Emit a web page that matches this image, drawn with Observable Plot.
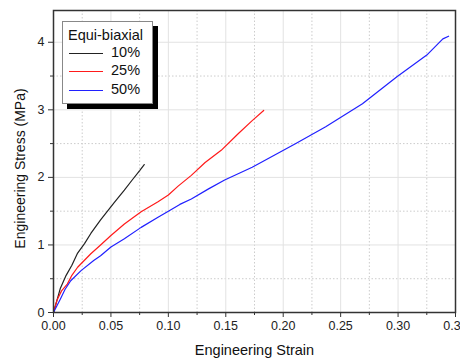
<!DOCTYPE html>
<html><head><meta charset="utf-8">
<script src="https://cdn.jsdelivr.net/npm/d3@7"></script>
<script src="https://cdn.jsdelivr.net/npm/@observablehq/plot@0.6"></script>
<style>
body{margin:0;background:#fff;font-family:"Liberation Sans",Arial,sans-serif;}
#wrap{position:relative;width:460px;height:360px;overflow:hidden;}
#legend{position:absolute;left:62px;top:21px;width:89px;height:81px;background:#fff;border:1px solid #888;box-shadow:5px 5px 0 #000;font-size:14.5px;color:#111;}
#legend .t{position:absolute;left:5px;top:5px;}
#legend .row{position:absolute;left:6px;height:16px;}
#legend .ln{position:absolute;left:0;top:8px;width:34px;}
#legend .lb{position:absolute;left:42px;top:-1px;}
</style></head>
<body><div id="wrap"><div id="chart"></div><div id="legend"></div></div>
<script>
const seriesNames = ["10%", "25%", "50%"];
const seriesColors = ["#222222", "#ff1a1a", "#2020ff"];
const strain10 = [0,0.003,0.006,0.011,0.016,0.021,0.027,0.0325,0.041,0.047,0.053,0.0617,0.068,0.075,0.079];
const stress10 = [0,0.18,0.36,0.55,0.70,0.88,1.02,1.17,1.37,1.50,1.63,1.81,1.95,2.10,2.19];
const strain25 = [0,0.003,0.007,0.012,0.016,0.021,0.0325,0.041,0.050,0.0617,0.0763,0.091,0.100,0.1085,0.120,0.132,0.146,0.161,0.173,0.183];
const stress25 = [0,0.18,0.32,0.42,0.55,0.67,0.87,1.00,1.14,1.31,1.49,1.64,1.74,1.87,2.03,2.22,2.40,2.65,2.84,2.99];
const strain50 = [0,0.003,0.006,0.010,0.015,0.024,0.035,0.041,0.050,0.0617,0.0763,0.091,0.100,0.110,0.120,0.135,0.149,0.173,0.187,0.211,0.237,0.269,0.299,0.325,0.339,0.344];
const stress50 = [0,0.10,0.20,0.34,0.47,0.62,0.77,0.84,0.97,1.09,1.26,1.41,1.50,1.60,1.68,1.83,1.96,2.15,2.28,2.50,2.75,3.09,3.49,3.81,4.05,4.09];
const xMajor = [0,0.05,0.10,0.15,0.20,0.25,0.30,0.35];
const xMinor = [0.025,0.075,0.125,0.175,0.225,0.275,0.325];
const yMajor = [0,1,2,3,4];
const yMinor = [0.5,1.5,2.5,3.5];
const xLabel = "Engineering Strain";
const yLabel = "Engineering Stress (MPa)";
const legendTitle = "Equi-biaxial";

const strains = [strain10, strain25, strain50];
const stresses = [stress10, stress25, stress50];
const data = [];
seriesNames.forEach((s, i) => strains[i].forEach((x, j) => data.push({series: s, strain: x, stress: stresses[i][j]})));

const axisColor = "#333";
const chart = Plot.plot({
  width: 460, height: 360,
  marginLeft: 53, marginRight: 5, marginTop: 10, marginBottom: 48,
  style: {fontFamily: '"Liberation Sans", Arial, sans-serif', fontSize: "12.5px", color: "#222", background: "#fff"},
  x: {domain: [0, 0.35]},
  y: {domain: [0, 4.47]},
  color: {domain: seriesNames, range: seriesColors},
  marks: [
    Plot.ruleX(xMinor, {stroke: "#ccc", strokeDasharray: "1.5,2", strokeWidth: 1}),
    Plot.ruleY(yMinor, {stroke: "#ccc", strokeDasharray: "1.5,2", strokeWidth: 1}),
    Plot.ruleX(xMajor.slice(1, -1), {stroke: "#e2e2e2", strokeWidth: 1}),
    Plot.ruleY(yMajor.slice(1), {stroke: "#e2e2e2", strokeWidth: 1}),
    Plot.line(data, {x: "strain", y: "stress", z: "series", stroke: "series", strokeWidth: 1.2}),
    Plot.frame({stroke: axisColor, strokeWidth: 1.5}),
    Plot.axisX({ticks: xMajor, tickSize: 5, tickFormat: d3.format(".2f"), tickPadding: 4, stroke: axisColor, label: null, fontSize: 12.5}),
    Plot.axisX({ticks: xMinor, tickSize: 3, tickFormat: () => "", stroke: axisColor, label: null}),
    Plot.axisY({ticks: yMajor, tickSize: 5, tickFormat: d3.format("d"), tickPadding: 4, stroke: axisColor, label: null, fontSize: 12.5}),
    Plot.axisY({ticks: yMinor, tickSize: 3, tickFormat: () => "", stroke: axisColor, label: null}),
    Plot.text([xLabel], {frameAnchor: "bottom", textAnchor: "middle", dy: 42, fontSize: 14.5, fill: "#111"}),
    Plot.text([yLabel], {frameAnchor: "left", textAnchor: "middle", dx: -33, dy: 7, rotate: -90, fontSize: 14, fill: "#111"})
  ]
});
document.getElementById("chart").appendChild(chart);

const lg = document.getElementById("legend");
const t = document.createElement("div"); t.className = "t"; t.textContent = legendTitle; lg.appendChild(t);
seriesNames.forEach((s, i) => {
  const r = document.createElement("div"); r.className = "row"; r.style.top = (23 + i * 18.3) + "px";
  const l = document.createElement("div"); l.className = "ln"; l.style.borderTop = "1.5px solid " + seriesColors[i];
  const b = document.createElement("div"); b.className = "lb"; b.textContent = s;
  r.appendChild(l); r.appendChild(b); lg.appendChild(r);
});
</script></body></html>
